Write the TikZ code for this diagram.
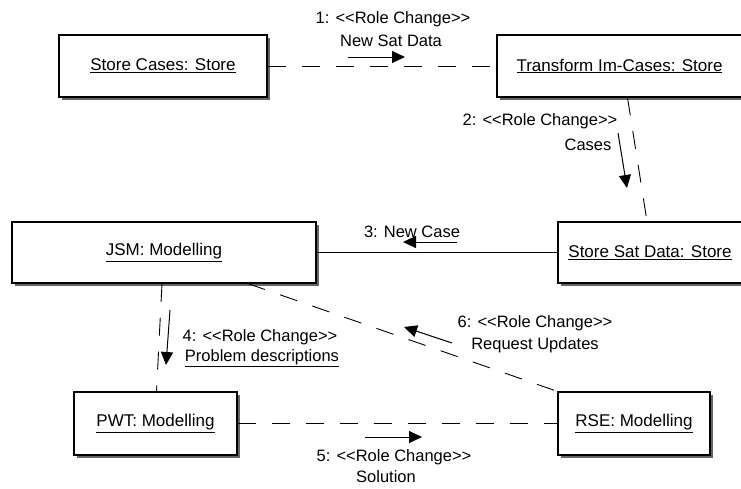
\documentclass[tikz,border=0pt]{standalone}
\usepackage{fontspec}
\newfontfamily\umlfont{Liberation Sans}
\usetikzlibrary{arrows.meta,shadows}

\tikzset{
  obj/.style={draw, line width=1.2pt, fill=white, inner sep=0pt,
    font=\umlfont\fontsize{17}{20}\selectfont,
    general shadow={fill=black!60, shadow xshift=3pt, shadow yshift=-3pt}},
  link/.style={line width=0.9pt, dash pattern=on 18pt off 16pt},
  msg/.style={line width=1pt, -{Triangle[length=13pt,width=12pt]}},
  lbl/.style={font=\umlfont\fontsize{16.5}{19}\selectfont, inner sep=0pt}
}

\begin{document}
\begin{tikzpicture}[x=1pt,y=1pt,yscale=-1,xscale=1]
    \useasboundingbox (0,0) rectangle (741,488);

    % Object Node
    \draw (163,66) node [obj, minimum width=208pt, minimum height=62pt] (cases) {\underline{Store Cases: Store}};
    % Object Node
    \draw (619.5,66) node [obj, minimum width=245pt, minimum height=62pt] (transform) {\underline{Transform Im-Cases: Store}};
    % Object Node
    \draw (164,252.5) node [obj, minimum width=304pt, minimum height=61pt] (jsm) {\underline{JSM: Modelling}};
    % Object Node
    \draw (650,252.5) node [obj, minimum width=184pt, minimum height=61pt] (satdata) {\underline{Store Sat Data: Store}};
    % Object Node
    \draw (155.5,423.5) node [obj, minimum width=163pt, minimum height=63pt] (pwt) {\underline{PWT: Modelling}};
    % Object Node
    \draw (634,423.5) node [obj, minimum width=152pt, minimum height=63pt] (rse) {\underline{RSE: Modelling}};

    % Connection
    \draw [link] (cases.east) -- (transform.west);
    % Connection
    \draw [link] ([xshift=8pt]transform.south) -- ([xshift=-3pt]satdata.north);
    % Connection
    \draw [line width=0.9pt] (jsm.east) -- (satdata.west);
    % Connection
    \draw [link] ([xshift=-2pt]jsm.south) -- ([xshift=1pt]pwt.north);
    % Connection
    \draw [link] (pwt.east) -- (rse.west);
    % Connection
    \draw [link] ([xshift=84pt]jsm.south) -- (rse.north west);

    % Message 1
    \coordinate (m1s) at (348,57);
    \coordinate (m1e) at (405,57);
    \draw [msg] (m1s) -- (m1e);
    \draw (393,19) node [lbl] (l1a) {1: <<Role Change>>};
    \draw (391,41) node [lbl] (l1b) {New Sat Data};
    % Message 2
    \coordinate (m2s) at (618,133);
    \coordinate (m2e) at (627,188);
    \draw [msg] (m2s) -- (m2e);
    \draw (540,121) node [lbl] (l2a) {2: <<Role Change>>};
    \draw (588,145) node [lbl] (l2b) {Cases};
    % Message 3
    \coordinate (m3s) at (457,242);
    \coordinate (m3e) at (403,242);
    \draw [msg] (m3s) -- (m3e);
    \draw (412,232) node [lbl] (l3) {3: New Case};
    % Message 4
    \coordinate (m4s) at (170,310);
    \coordinate (m4e) at (166,365);
    \draw [msg] (m4s) -- (m4e);
    \draw (260,337) node [lbl] (l4a) {4: <<Role Change>>};
    \draw (262,358) node [lbl] (l4b) {\underline{Problem descriptions}};
    % Message 5
    \coordinate (m5s) at (365,437);
    \coordinate (m5e) at (422,437);
    \draw [msg] (m5s) -- (m5e);
    \draw (394,457) node [lbl] (l5a) {5: <<Role Change>>};
    \draw (386,477) node [lbl] (l5b) {Solution};
    % Message 6
    \coordinate (m6s) at (452,343);
    \coordinate (m6e) at (404,327);
    \draw [msg] (m6s) -- (m6e);
    \draw (535,323) node [lbl] (l6a) {6: <<Role Change>>};
    \draw (535,345) node [lbl] (l6b) {Request Updates};

\end{tikzpicture}
\end{document}
